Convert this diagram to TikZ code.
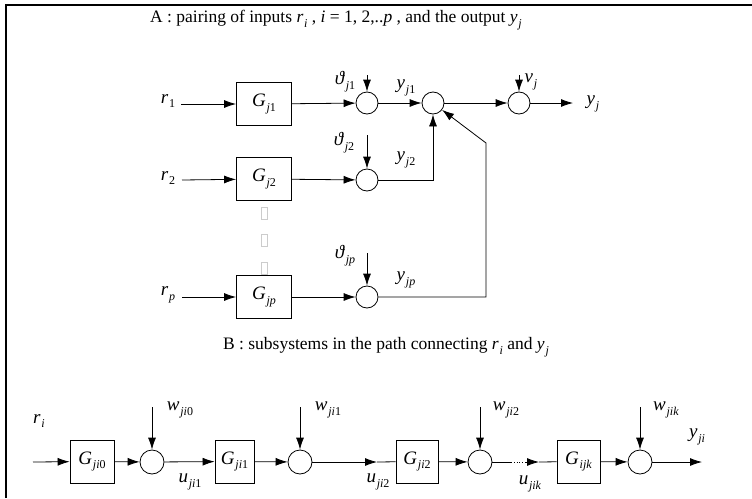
\documentclass[tikz,border=0pt]{standalone}
\usepackage{fontspec}
\setmainfont{Liberation Serif}
\usetikzlibrary{arrows.meta}
\newcommand{\lab}[2]{\textit{#1}\kern0.8pt\raisebox{-0.55ex}{\fontsize{12}{12}\selectfont #2}}
\newcommand{\thl}[1]{\textit{ϑ}\kern0.8pt\raisebox{-0.55ex}{\fontsize{12}{12}\selectfont #1}}
\begin{document}
\begin{tikzpicture}[x=1pt,y=-1pt,
  blk/.style={draw, line width=0.8pt, minimum height=43pt, inner sep=0pt, font=\fontsize{19}{19}\selectfont},
  sumn/.style={draw, line width=0.8pt, circle, minimum size=22pt, inner sep=0pt},
  sumb/.style={draw, line width=0.8pt, circle, minimum size=24pt, inner sep=0pt},
  arr/.style={-{Latex[length=12pt,width=8pt]}, line width=0.8pt},
  ln/.style={line width=0.8pt},
  txt/.style={font=\fontsize{19}{19}\selectfont, inner sep=0pt},
  ttl/.style={font=\fontsize{17.5}{17.5}\selectfont, inner sep=0pt},
  gbox/.style={draw=gray!40, line width=0.8pt, minimum width=6pt, minimum height=12pt, inner sep=0pt}]
\useasboundingbox (0,0) rectangle (752,498);
% frame
\draw[line width=1.2pt] (6,498) -- (6,5) -- (752,5);
% titles
\node[ttl] (ta) at (336,20) {A : pairing of inputs \lab{r}{\textit{i}} , \textit{i} = 1, 2,..\textit{p} , and the output \lab{y}{\textit{j}}};
\node[ttl] (tb) at (386,347) {B : subsystems in the path connecting \lab{r}{\textit{i}} and \lab{y}{\textit{j}}};
% ---------- upper part
\node[blk, minimum width=55pt] (g1) at (264,104) {\lab{G}{\textit{j}1}};
\node[blk, minimum width=55pt] (g2) at (264,179) {\lab{G}{\textit{j}2}};
\node[blk, minimum width=55pt] (gp) at (264,297) {\lab{G}{\textit{jp}}};
\node[sumn] (s1) at (367,103) {};
\node[sumn] (s2) at (367,180) {};
\node[sumn] (sp) at (367,297) {};
\node[sumn] (c) at (433,103) {};
\node[sumn] (v) at (519,103) {};
\node[gbox] (d1) at (264,213) {};
\node[gbox] (d2) at (264,240) {};
\node[gbox] (d3) at (264,268) {};
% inputs
\node[txt] (r1) at (168,101) {\lab{r}{1}};
\node[txt] (r2) at (168,178) {\lab{r}{2}};
\node[txt] (rp) at (168,295) {\lab{r}{\textit{p}}};
\coordinate (a1) at (181,104);
\coordinate (a2) at (182,180);
\coordinate (ap) at (182,297);
\draw[arr] (a1) -- (g1);
\draw[arr] (a2) -- (g2);
\draw[arr] (ap) -- (gp);
\draw[arr] (g1) -- (s1);
\draw[arr] (g2) -- (s2);
\draw[arr] (gp) -- (sp);
% disturbances
\coordinate (t1) at (367,75);
\coordinate (t2) at (367,135);
\coordinate (tp) at (367,253);
\coordinate (tv) at (519,75);
\draw[arr] (t1) -- (s1);
\draw[arr] (t2) -- (s2);
\draw[arr] (tp) -- (sp);
\draw[arr] (tv) -- (v);
\node[txt] (th1) at (345,82) {\thl{\textit{j}1}};
\node[txt] (th2) at (344,143) {\thl{\textit{j}2}};
\node[txt] (thp) at (345,256) {\thl{\textit{jp}}};
\node[txt] (vj) at (531,82) {\lab{v}{\textit{j}}};
% outputs of sums
\node[txt] (y1) at (406,88) {\lab{y}{\textit{j}1}};
\node[txt] (y2) at (406,160) {\lab{y}{\textit{j}2}};
\node[txt] (yp) at (406,280) {\lab{y}{\textit{jp}}};
\draw[arr] (s1) -- (c);
\draw[arr] (s2) -| (c);
\coordinate (f1) at (486,297);
\coordinate (f2) at (486,143);
\draw[arr] (sp) -- (f1) -- (f2) -- (c);
\draw[arr] (c) -- (v);
\coordinate (yo) at (573,103);
\draw[arr] (v) -- (yo);
\node[txt] (yj) at (593,104) {\lab{y}{\textit{j}}};
% ---------- lower part
\node[blk, minimum width=44pt] (h0) at (92,461.5) {\lab{G}{\textit{ji}0}};
\node[blk, minimum width=39pt] (h1) at (234.5,461.5) {\lab{G}{\textit{ji}1}};
\node[blk, minimum width=42pt] (h2) at (417,461.5) {\lab{G}{\textit{ji}2}};
\node[blk, minimum width=43pt] (hk) at (578.5,461.5) {\lab{G}{\textit{ijk}}};
\node[sumb] (q0) at (152,462) {};
\node[sumb] (q1) at (300,462) {};
\node[sumb] (q2) at (480,462) {};
\node[sumb] (qk) at (640,462) {};
\node[txt] (ri) at (39,421) {\lab{r}{\textit{i}}};
\coordinate (b0) at (33,462);
\draw[arr] (b0) -- (h0);
\draw[arr] (h0) -- (q0);
\draw[arr] (q0) -- (h1);
\draw[arr] (h1) -- (q1);
\coordinate (m1) at (377,462);
\draw[arr] (q1) -- (m1);
\draw[ln] (m1) -- (h2);
\draw[arr] (h2) -- (q2);
\coordinate (e1) at (511,462);
\coordinate (e2) at (526,462);
\coordinate (e3) at (539,462);
\draw[ln] (q2) -- (e1);
\draw[ln, dotted] (e1) -- (e2);
\draw[arr] (e2) -- (e3);
\draw[ln] (e3) -- (hk);
\draw[arr] (hk) -- (qk);
\coordinate (ob) at (702,462);
\draw[arr] (qk) -- (ob);
% disturbances lower
\coordinate (w0) at (152,407);
\coordinate (w1) at (300,407);
\coordinate (w2) at (480,407);
\coordinate (wk) at (640,407);
\draw[arr] (w0) -- (q0);
\draw[arr] (w1) -- (q1);
\draw[arr] (w2) -- (q2);
\draw[arr] (wk) -- (qk);
\node[txt] (lw0) at (180,410) {\lab{w}{\textit{ji}0}};
\node[txt] (lw1) at (328,410) {\lab{w}{\textit{ji}1}};
\node[txt] (lw2) at (506,410) {\lab{w}{\textit{ji}2}};
\node[txt] (lwk) at (666,410) {\lab{w}{\textit{jik}}};
\node[txt] (u1) at (190,482) {\lab{u}{\textit{ji}1}};
\node[txt] (u2) at (378,482) {\lab{u}{\textit{ji}2}};
\node[txt] (uk) at (530,484) {\lab{u}{\textit{jik}}};
\node[txt] (yji) at (697,437) {\lab{y}{\textit{ji}}};
\end{tikzpicture}
\end{document}
